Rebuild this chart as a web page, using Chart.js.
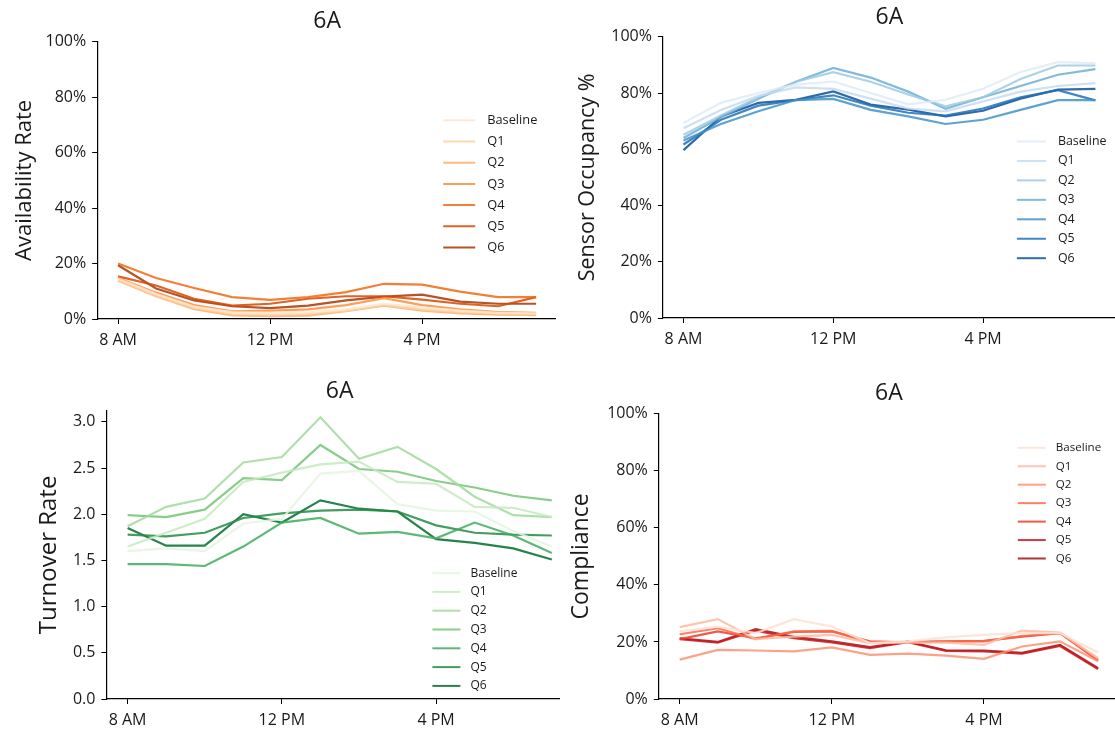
<!DOCTYPE html>
<html>
<head>
<meta charset="utf-8">
<script src="https://cdn.jsdelivr.net/npm/chart.js@4"></script>
<style>
  html, body { margin: 0; padding: 0; background: #fff; }
  body { width: 1115px; height: 730px; position: relative; overflow: hidden; }
  .panel { position: absolute; overflow: hidden; }
  .panel canvas { position: absolute; left: 0; top: 0; }
</style>
</head>
<body>
<script>
'use strict';

// hourly samples, 8 AM to 7 PM
const hours = [8, 9, 10, 11, 12, 13, 14, 15, 16, 17, 18, 19];
const tickHours = [8, 12, 16];
const tickHourLabels = ['8 AM', '12 PM', '4 PM'];
const seriesNames = ['Baseline', 'Q1', 'Q2', 'Q3', 'Q4', 'Q5', 'Q6'];

// one row per series (Baseline, Q1..Q6), values in %
const availabilityRate = [
  [14.5, 9.0, 4.5, 2.5, 2.2, 2.5, 3.5, 5.5, 4.2, 3.0, 2.2, 2.0],
  [14.0, 8.5, 4.0, 1.8, 1.5, 1.8, 3.0, 5.0, 3.5, 2.5, 2.0, 1.8],
  [13.8, 8.2, 3.5, 1.3, 1.0, 1.2, 2.8, 4.8, 3.0, 2.0, 1.6, 1.5],
  [14.8, 9.5, 5.0, 2.8, 3.0, 3.5, 5.0, 7.5, 5.0, 3.5, 2.5, 2.2],
  [20.0, 14.8, 11.2, 7.9, 6.9, 7.9, 9.7, 12.7, 12.4, 9.9, 7.9, 7.9],
  [15.4, 12.1, 7.3, 4.8, 5.5, 7.3, 8.2, 8.2, 7.0, 5.5, 4.6, 7.9],
  [19.4, 11.0, 6.7, 4.6, 3.9, 4.8, 6.7, 8.1, 8.8, 6.3, 5.5, 5.5]
];

const sensorOccupancy = [
  [69.4, 76.5, 80.0, 83.0, 84.1, 80.0, 76.0, 77.6, 81.5, 87.5, 91.0, 90.6],
  [67.5, 74.0, 79.0, 82.0, 81.5, 78.0, 74.5, 73.5, 77.0, 80.5, 82.5, 83.5],
  [65.2, 72.0, 78.5, 84.0, 87.4, 84.0, 79.5, 75.3, 78.5, 85.0, 89.8, 89.8],
  [64.0, 71.5, 78.0, 84.0, 88.9, 85.5, 80.5, 74.4, 78.5, 82.5, 86.5, 88.5],
  [63.1, 69.0, 73.5, 77.5, 77.9, 74.0, 71.7, 69.0, 70.5, 74.0, 77.5, 77.5],
  [61.7, 70.5, 75.5, 77.5, 79.2, 75.5, 73.0, 72.0, 74.5, 78.5, 81.0, 77.4],
  [59.7, 71.7, 76.5, 77.6, 80.6, 75.9, 74.1, 71.7, 73.7, 78.0, 81.2, 81.5]
];

const turnoverRate = [
  [1.60, 1.63, 1.60, 1.90, 1.95, 2.44, 2.47, 2.11, 2.04, 2.03, 1.82, 1.65],
  [1.65, 1.80, 1.95, 2.35, 2.45, 2.54, 2.57, 2.35, 2.33, 2.08, 2.07, 1.97],
  [1.87, 2.08, 2.17, 2.56, 2.62, 3.05, 2.60, 2.73, 2.49, 2.19, 1.99, 1.97],
  [1.99, 1.97, 2.05, 2.39, 2.37, 2.75, 2.49, 2.46, 2.36, 2.29, 2.20, 2.15],
  [1.46, 1.46, 1.44, 1.65, 1.91, 1.96, 1.79, 1.81, 1.74, 1.91, 1.77, 1.58],
  [1.78, 1.76, 1.80, 1.96, 2.01, 2.04, 2.05, 2.03, 1.88, 1.80, 1.78, 1.77],
  [1.85, 1.66, 1.66, 2.00, 1.91, 2.15, 2.06, 2.03, 1.73, 1.69, 1.63, 1.51]
];

const compliance = [
  [23.7, 25.4, 23.1, 28.0, 25.4, 19.6, 20.2, 21.6, 22.5, 23.1, 23.1, 16.3],
  [25.2, 28.0, 21.0, 21.9, 22.5, 19.6, 19.8, 19.8, 19.0, 24.0, 23.3, 14.3],
  [13.8, 17.2, 17.0, 16.7, 18.1, 15.5, 15.9, 15.2, 14.1, 18.4, 20.2, 13.2],
  [22.7, 24.8, 21.0, 23.7, 23.9, 19.8, 20.0, 20.2, 20.2, 22.1, 23.1, 13.8],
  [21.0, 23.7, 21.3, 23.5, 23.7, 20.2, 19.9, 20.2, 20.4, 21.9, 23.1, 13.5],
  [21.0, 19.8, 24.0, 21.3, 19.8, 17.8, 19.9, 16.9, 16.7, 15.9, 18.6, 10.5],
  [21.3, 20.0, 24.5, 21.8, 20.2, 18.2, 20.1, 17.1, 17.0, 16.2, 19.0, 10.8]
];

// sequential palettes, light to dark (drawn at 85% opacity)
const oranges = ['#fee6ce', '#fdd0a2', '#fdae6b', '#fd8d3c', '#f16913', '#d94801', '#a63603'];
const blues = ['#deebf7', '#c6dbef', '#9ecae1', '#6baed6', '#4292c6', '#2171b5', '#08519c'];
const greens = ['#e5f5e0', '#c7e9c0', '#a1d99b', '#74c476', '#41ab5d', '#238b45', '#006d2c'];
const reds = ['#fee0d2', '#fcbba1', '#fc9272', '#fb6a4a', '#ef3b2c', '#cb181d', '#a50f15'];

const FONT = "'Open Sans', sans-serif";
const TEXT = '#1a1a1a';
const X_AXIS_H = 42;
const TITLE_SIZE = 23;

function withAlpha(hex, a) {
  const n = parseInt(hex.slice(1), 16);
  return `rgba(${n >> 16}, ${(n >> 8) & 255}, ${n & 255}, ${a})`;
}

// legend drawn inside the plot area, matplotlib style
const insideLegend = {
  id: 'insideLegend',
  afterDatasetsDraw(chart, args, opts) {
    const { ctx, chartArea } = chart;
    ctx.save();
    ctx.font = opts.fontSize + 'px ' + FONT;
    ctx.textBaseline = 'middle';
    ctx.textAlign = 'left';
    chart.data.datasets.forEach((ds, i) => {
      const x0 = chartArea.left + opts.dx;
      const y = chartArea.top + opts.dy + i * opts.rowH;
      ctx.strokeStyle = ds.borderColor;
      ctx.lineWidth = 2;
      ctx.beginPath();
      ctx.moveTo(x0, y);
      ctx.lineTo(x0 + opts.lineLen, y);
      ctx.stroke();
      ctx.fillStyle = TEXT;
      ctx.fillText(ds.label, x0 + opts.lineLen + opts.gap, y);
    });
    ctx.restore();
  }
};

function makePanel(p) {
  const yLh = p.yTitleSize * 1.2;
  const tLh = TITLE_SIZE * 1.2;
  const left = p.yLabelX - yLh / 2;
  const top = p.titleY - tLh / 2 - 2;
  const width = p.plot[2] - left;
  const height = p.plot[3] + X_AXIS_H - top;
  const yWidth = p.plot[0] - left;

  const box = document.createElement('div');
  box.className = 'panel';
  box.style.left = left + 'px';
  box.style.top = top + 'px';
  box.style.width = ((p.clipRight || p.plot[2]) - left) + 'px';
  box.style.height = height + 'px';
  const canvas = document.createElement('canvas');
  canvas.width = width;
  canvas.height = height;
  box.appendChild(canvas);
  document.body.appendChild(box);

  const datasets = p.values.map((row, i) => ({
    label: seriesNames[i],
    data: row.map((v, j) => ({ x: hours[j], y: v })),
    borderColor: withAlpha(p.colors[i], 0.85),
    backgroundColor: p.colors[i],
    borderWidth: 2.2,
    pointRadius: 0,
    tension: 0,
    fill: false
  }));

  const tickFont = { family: FONT, size: 16 };
  return new Chart(canvas, {
    type: 'line',
    data: { datasets },
    plugins: [insideLegend],
    options: {
      responsive: false,
      animation: false,
      layout: { padding: 0 },
      plugins: {
        legend: { display: false },
        tooltip: { enabled: false },
        title: {
          display: true,
          text: '6A',
          fullSize: false,
          color: TEXT,
          font: { family: FONT, size: TITLE_SIZE, weight: 'normal' },
          padding: { top: 2, bottom: p.plot[1] - p.titleY - tLh / 2 }
        },
        insideLegend: p.legend
      },
      scales: {
        x: {
          type: 'linear',
          min: 7.45,
          max: 19.55,
          afterBuildTicks: s => { s.ticks = tickHours.map(v => ({ value: v })); },
          afterFit: s => { s.height = X_AXIS_H; },
          ticks: {
            autoSkip: false,
            maxRotation: 0,
            padding: 7,
            color: TEXT,
            font: tickFont,
            callback: v => tickHourLabels[tickHours.indexOf(v)]
          },
          grid: { drawOnChartArea: false, drawTicks: true, tickLength: 5, tickColor: '#000' },
          border: { display: true, color: '#000', width: 1.2 }
        },
        y: {
          min: 0,
          max: p.yMax,
          afterFit: s => { s.width = yWidth; },
          title: {
            display: true,
            text: p.yTitle,
            color: TEXT,
            padding: 0,
            font: { family: FONT, size: p.yTitleSize }
          },
          ticks: {
            stepSize: p.yStep,
            includeBounds: false,
            padding: 6,
            color: TEXT,
            font: tickFont,
            callback: p.yFormat
          },
          grid: { drawOnChartArea: false, drawTicks: true, tickLength: 5, tickColor: '#000' },
          border: { display: true, color: '#000', width: 1.2 }
        }
      }
    }
  });
}

const pct = v => v + '%';

makePanel({
  values: availabilityRate, colors: oranges,
  plot: [97, 42, 557, 320], clipRight: 556, yLabelX: 25, titleY: 22,
  yTitle: 'Availability Rate', yTitleSize: 22,
  yMax: 100, yStep: 20, yFormat: pct,
  legend: { dx: 346, dy: 78.5, rowH: 21.2, lineLen: 32, gap: 12, fontSize: 12.8 }
});

makePanel({
  values: sensorOccupancy, colors: blues,
  plot: [663, 37, 1117, 319], yLabelX: 588, titleY: 18,
  yTitle: 'Sensor Occupancy %', yTitleSize: 21.5,
  yMax: 100, yStep: 20, yFormat: pct,
  legend: { dx: 354, dy: 104.7, rowH: 19.45, lineLen: 29, gap: 12, fontSize: 12.4 }
});

makePanel({
  values: turnoverRate, colors: greens,
  plot: [106, 411, 573, 700], clipRight: 560, yLabelX: 49, titleY: 392,
  yTitle: 'Turnover Rate', yTitleSize: 24,
  yMax: 3.12, yStep: 0.5, yFormat: v => v.toFixed(1),
  legend: { dx: 326, dy: 162.3, rowH: 18.8, lineLen: 28, gap: 10, fontSize: 12 }
});

makePanel({
  values: compliance, colors: reds,
  plot: [659, 414, 1120, 700], yLabelX: 582, titleY: 394,
  yTitle: 'Compliance', yTitleSize: 23,
  yMax: 100, yStep: 20, yFormat: pct,
  legend: { dx: 359, dy: 34, rowH: 18.45, lineLen: 28, gap: 10, fontSize: 11.6 }
});
</script>
</body>
</html>
